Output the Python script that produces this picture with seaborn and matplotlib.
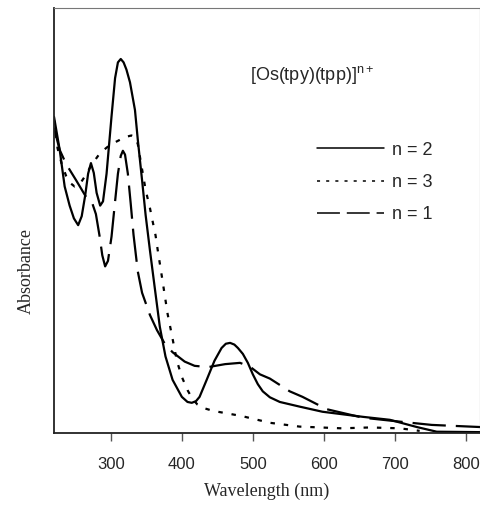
import pandas as pd
import matplotlib
matplotlib.use("Agg")
import matplotlib.pyplot as plt
import seaborn as sns

sns.set_style("ticks")
plt.rcParams['font.family'] = ['Liberation Sans', 'DejaVu Sans']
plt.rcParams['mathtext.default'] = 'regular'

# Data (wavelength in nm, absorbance in arbitrary units)
wl_n2 = [220, 228, 235, 242, 248, 254, 259, 264, 268, 272, 276, 280, 285, 289, 294, 301,
         306, 310, 314, 318, 322, 327, 334, 338, 344, 349, 355, 362, 369, 377, 387, 400,
         408, 414, 420, 425, 435, 446, 456, 462, 468, 474, 479, 486, 493, 500, 507, 514,
         524, 538, 566, 598, 655, 693, 731, 759, 820]
abs_n2 = [0.744, 0.666, 0.580, 0.535, 0.505, 0.489, 0.510, 0.560, 0.610, 0.635, 0.612, 0.565,
          0.535, 0.545, 0.610, 0.745, 0.835, 0.872, 0.880, 0.872, 0.855, 0.825, 0.760, 0.690,
          0.595, 0.513, 0.431, 0.340, 0.250, 0.180, 0.125, 0.085, 0.073, 0.071, 0.075, 0.085,
          0.125, 0.170, 0.200, 0.210, 0.212, 0.208, 0.200, 0.186, 0.165, 0.138, 0.115, 0.098,
          0.084, 0.073, 0.062, 0.050, 0.038, 0.031, 0.014, 0.003, 0.002]

wl_n3 = [220, 225, 231, 237, 243, 249, 256, 264, 273, 285, 299, 313, 322, 329, 334, 338,
         342, 349, 355, 359, 363, 366, 372, 380, 386, 393, 400, 408, 415, 422, 432, 444,
         464, 484, 524, 566, 625, 665, 707, 735]
abs_n3 = [0.736, 0.670, 0.632, 0.605, 0.588, 0.580, 0.585, 0.605, 0.631, 0.659, 0.678, 0.690,
          0.697, 0.700, 0.697, 0.680, 0.640, 0.572, 0.530, 0.497, 0.465, 0.431, 0.367, 0.280,
          0.230, 0.170, 0.132, 0.101, 0.080, 0.067, 0.058, 0.052, 0.046, 0.040, 0.024, 0.015,
          0.011, 0.013, 0.011, 0.005]

wl_n1 = [220, 228, 237, 251, 266, 274, 279, 284, 288, 292, 296, 301, 306, 310, 314, 317,
         320, 324, 328, 332, 338, 344, 355, 365, 376, 387, 404, 418, 437, 461, 482, 496,
         510, 524, 552, 570, 604, 655, 711, 752, 820]
abs_n1 = [0.718, 0.666, 0.633, 0.595, 0.553, 0.540, 0.515, 0.465, 0.418, 0.392, 0.405, 0.462,
          0.545, 0.610, 0.652, 0.664, 0.655, 0.610, 0.540, 0.466, 0.380, 0.330, 0.278, 0.242,
          0.210, 0.190, 0.168, 0.158, 0.155, 0.162, 0.165, 0.156, 0.138, 0.128, 0.098, 0.085,
          0.056, 0.036, 0.026, 0.019, 0.014]

labels = ["n = 2", "n = 3", "n = 1"]
xticks = [300, 400, 500, 600, 700, 800]

df = pd.concat([
    pd.DataFrame({"wl": wl_n2, "A": abs_n2, "n": labels[0]}),
    pd.DataFrame({"wl": wl_n3, "A": abs_n3, "n": labels[1]}),
    pd.DataFrame({"wl": wl_n1, "A": abs_n1, "n": labels[2]}),
])

fig = plt.figure(figsize=(4.81, 5.05), dpi=100)
ax = fig.add_axes([0.1123, 0.1426, 0.8857, 0.8416])
sns.lineplot(data=df, x="wl", y="A", style="n", style_order=labels,
             dashes={labels[0]: "", labels[1]: (2, 4), labels[2]: (15, 4.5)},
             color="black", linewidth=1.6, estimator=None, sort=False, legend=False, ax=ax)
for ln in ax.get_lines():
    ln.set_solid_joinstyle("round")
    ln.set_dash_joinstyle("round")

ax.set_xlim(220, 820)
ax.set_ylim(0, 1)
ax.set_xticks(xticks)
ax.set_yticks([])
ax.tick_params(axis="x", direction="out", length=6, width=1, color="#555555", labelsize=12, pad=11)
for s in ["top", "right"]:
    ax.spines[s].set_color("#777777")
    ax.spines[s].set_linewidth(0.8)
for s in ["left", "bottom"]:
    ax.spines[s].set_color("#222222")
    ax.spines[s].set_linewidth(1.3)

ax.set_xlabel("Wavelength (nm)", fontsize=13, family=["Liberation Serif"], labelpad=8)
ax.set_ylabel("Absorbance", fontsize=13, family=["Liberation Serif"])
ax.yaxis.set_label_coords(-0.045, 0.38)

ax.text(0.46, 0.84, "[Os(tpy)(tpp)]$^{n+}$", transform=ax.transAxes, fontsize=13, va="center")

handles = ax.get_lines()
leg = ax.legend(handles, labels, loc="upper left", bbox_to_anchor=(0.58, 0.724), frameon=False,
                fontsize=13, handlelength=3.7, handletextpad=0.45, labelspacing=0.85)
for h in leg.get_lines():
    h.set_linewidth(1.1)

fig.savefig("out.png", dpi=100)
